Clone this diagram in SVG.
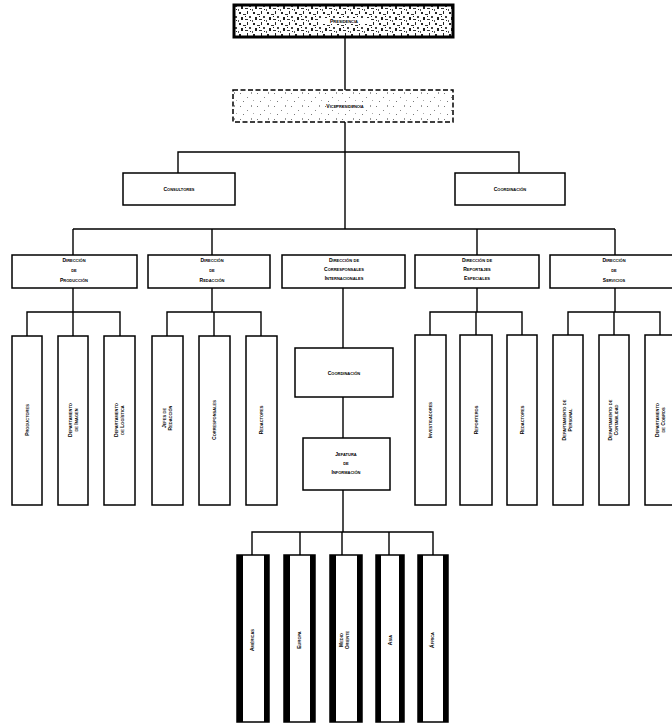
<svg xmlns="http://www.w3.org/2000/svg" width="672" height="723" viewBox="0 0 672 723">
<defs>
<pattern id="speck" width="14" height="11" patternUnits="userSpaceOnUse">
<rect width="14" height="11" fill="#ffffff"/>
<rect x="1" y="1" width="2" height="2" fill="#222"/><rect x="5" y="3" width="3" height="1" fill="#333"/><rect x="9" y="0" width="1" height="3" fill="#222"/><rect x="11" y="5" width="2" height="2" fill="#444"/><rect x="3" y="6" width="2" height="3" fill="#222"/><rect x="7" y="8" width="3" height="1" fill="#333"/><rect x="0" y="9" width="1" height="2" fill="#555"/><rect x="12" y="9" width="1" height="1" fill="#222"/><rect x="7" y="5" width="1" height="1" fill="#111"/>
</pattern>
<pattern id="speckLight" width="17" height="13" patternUnits="userSpaceOnUse">
<rect width="17" height="13" fill="#ffffff"/>
<rect x="2" y="2" width="1" height="1" fill="#777"/><rect x="9" y="6" width="1" height="1" fill="#888"/><rect x="13" y="1" width="1" height="2" fill="#999"/><rect x="5" y="10" width="1" height="1" fill="#777"/><rect x="15" y="9" width="1" height="1" fill="#aaa"/>
</pattern>
</defs>
<style>
.box{fill:#fff;stroke:#000;stroke-width:1.5}
.c{fill:none;stroke:#000;stroke-width:1.4}
.t{font-family:"Liberation Sans",Arial,sans-serif;font-size:5px;font-weight:bold;fill:#000;text-anchor:middle;font-variant:small-caps}
.side{fill:#000}
</style>
<g id="connectors">
<path class="c" d="M345 37V90M345 122V229"/>
<path class="c" d="M178 173V152H519V173"/>
<path class="c" d="M73 229H615M73 229V255M212 229V255M477 229V255M615 229V255"/>
<path class="c" d="M73 288V312M27 336V312H120V336M73 312V336"/>
<path class="c" d="M212 288V312M167 336V312H261V336M214 312V336"/>
<path class="c" d="M477 288V312M430 335V312H522V335M476 312V335"/>
<path class="c" d="M615 288V312M568 335V312H660V335M614 312V335"/>
<path class="c" d="M343 288V348M343 397V438M343 490V532"/>
<path class="c" d="M252 555V532H433V555M300 532V555M342 532V555M389 532V555"/>
</g>
<g id="presidencia"><rect x="234" y="5" width="219" height="32" fill="url(#speck)" stroke="#000" stroke-width="3"/><rect x="318" y="18" width="52" height="6" fill="#fff"/><text class="t" x="344" y="23">Presidencia</text></g>
<g id="vicepresidencia"><rect x="233" y="90" width="220" height="32" fill="url(#speckLight)" stroke="#000" stroke-width="1.5" stroke-dasharray="5,2.5"/><text class="t" x="345" y="108">Vicepresidencia</text></g>
<g id="consultores"><rect class="box" x="123" y="173" width="112" height="32"/><text class="t" x="179" y="191">Consultores</text></g>
<g id="coordinacion-general"><rect class="box" x="455" y="173" width="110" height="32"/><text class="t" x="510" y="191">Coordinación</text></g>
<g id="dir-produccion"><rect class="box" x="12" y="255" width="125" height="33"/><text class="t" x="74" y="262">Dirección</text><text class="t" x="74" y="272">de</text><text class="t" x="74" y="282">Producción</text></g>
<g id="dir-redaccion"><rect class="box" x="148" y="255" width="122" height="33"/><text class="t" x="212" y="262">Dirección</text><text class="t" x="212" y="272">de</text><text class="t" x="212" y="282">Redacción</text></g>
<g id="dir-corresponsales"><rect class="box" x="282" y="255" width="123" height="33"/><text class="t" x="344" y="262">Dirección de</text><text class="t" x="344" y="271">Corresponsales</text><text class="t" x="344" y="280">Internacionales</text></g>
<g id="dir-reportajes"><rect class="box" x="415" y="255" width="124" height="33"/><text class="t" x="477" y="262">Dirección de</text><text class="t" x="477" y="271">Reportajes</text><text class="t" x="477" y="280">Especiales</text></g>
<g id="dir-servicios"><rect class="box" x="550" y="255" width="124" height="33"/><text class="t" x="614" y="262">Dirección</text><text class="t" x="614" y="272">de</text><text class="t" x="614" y="282">Servicios</text></g>
<g id="productores"><rect class="box" x="12" y="336" width="30" height="169"/><text class="t" transform="translate(29 420) rotate(-90)">Productores</text></g>
<g id="dep-imagen"><rect class="box" x="58" y="336" width="30" height="169"/><text class="t" transform="translate(72 420) rotate(-90)">Departamento</text><text class="t" transform="translate(78 420) rotate(-90)">de Imagen</text></g>
<g id="dep-logistica"><rect class="box" x="104" y="336" width="31" height="169"/><text class="t" transform="translate(118 420) rotate(-90)">Departamento</text><text class="t" transform="translate(124 420) rotate(-90)">de Logística</text></g>
<g id="jefes-redaccion"><rect class="box" x="152" y="336" width="31" height="169"/><text class="t" transform="translate(166 418) rotate(-90)">Jefes de</text><text class="t" transform="translate(172 418) rotate(-90)">Redacción</text></g>
<g id="corresponsales"><rect class="box" x="199" y="336" width="31" height="169"/><text class="t" transform="translate(216 420) rotate(-90)">Corresponsales</text></g>
<g id="redactores1"><rect class="box" x="246" y="336" width="31" height="169"/><text class="t" transform="translate(263 420) rotate(-90)">Redactores</text></g>
<g id="investigadores"><rect class="box" x="415" y="335" width="31" height="170"/><text class="t" transform="translate(432 420) rotate(-90)">Investigadores</text></g>
<g id="reporteros"><rect class="box" x="460" y="335" width="32" height="170"/><text class="t" transform="translate(478 420) rotate(-90)">Reporteros</text></g>
<g id="redactores2"><rect class="box" x="507" y="335" width="30" height="170"/><text class="t" transform="translate(524 420) rotate(-90)">Redactores</text></g>
<g id="dep-personal"><rect class="box" x="553" y="335" width="30" height="170"/><text class="t" transform="translate(566 420) rotate(-90)">Departamento de</text><text class="t" transform="translate(572 420) rotate(-90)">Personal</text></g>
<g id="dep-contabilidad"><rect class="box" x="599" y="335" width="30" height="170"/><text class="t" transform="translate(612 420) rotate(-90)">Departamento de</text><text class="t" transform="translate(618 420) rotate(-90)">Contabilidad</text></g>
<g id="dep-cobros"><rect class="box" x="645" y="335" width="32" height="170"/><text class="t" transform="translate(659 420) rotate(-90)">Departamento</text><text class="t" transform="translate(665 420) rotate(-90)">de Cobros</text></g>
<g id="coordinacion"><rect class="box" x="295" y="348" width="98" height="49"/><text class="t" x="344" y="375">Coordinación</text></g>
<g id="jefatura"><rect class="box" x="303" y="438" width="87" height="52"/><text class="t" x="346" y="456">Jefatura</text><text class="t" x="346" y="465">de</text><text class="t" x="346" y="474">Información</text></g>
<g id="americas"><rect class="box" x="237" y="555" width="32" height="167"/><rect class="side" x="237" y="555" width="6" height="167"/><rect class="side" x="264" y="555" width="5" height="167"/><text class="t" transform="translate(254 640) rotate(-90)">Américas</text></g>
<g id="europa"><rect class="box" x="284" y="555" width="31" height="167"/><rect class="side" x="284" y="555" width="6" height="167"/><rect class="side" x="310" y="555" width="5" height="167"/><text class="t" transform="translate(301 640) rotate(-90)">Europa</text></g>
<g id="medio-oriente"><rect class="box" x="330" y="555" width="32" height="167"/><rect class="side" x="330" y="555" width="6" height="167"/><rect class="side" x="357" y="555" width="5" height="167"/><text class="t" transform="translate(343 640) rotate(-90)">Medio</text><text class="t" transform="translate(349 640) rotate(-90)">Oriente</text></g>
<g id="asia"><rect class="box" x="376" y="555" width="28" height="167"/><rect class="side" x="376" y="555" width="5" height="167"/><rect class="side" x="399" y="555" width="5" height="167"/><text class="t" transform="translate(392 640) rotate(-90)">Asia</text></g>
<g id="africa"><rect class="box" x="418" y="555" width="30" height="167"/><rect class="side" x="418" y="555" width="5" height="167"/><rect class="side" x="443" y="555" width="5" height="167"/><text class="t" transform="translate(434 640) rotate(-90)">África</text></g>
</svg>
